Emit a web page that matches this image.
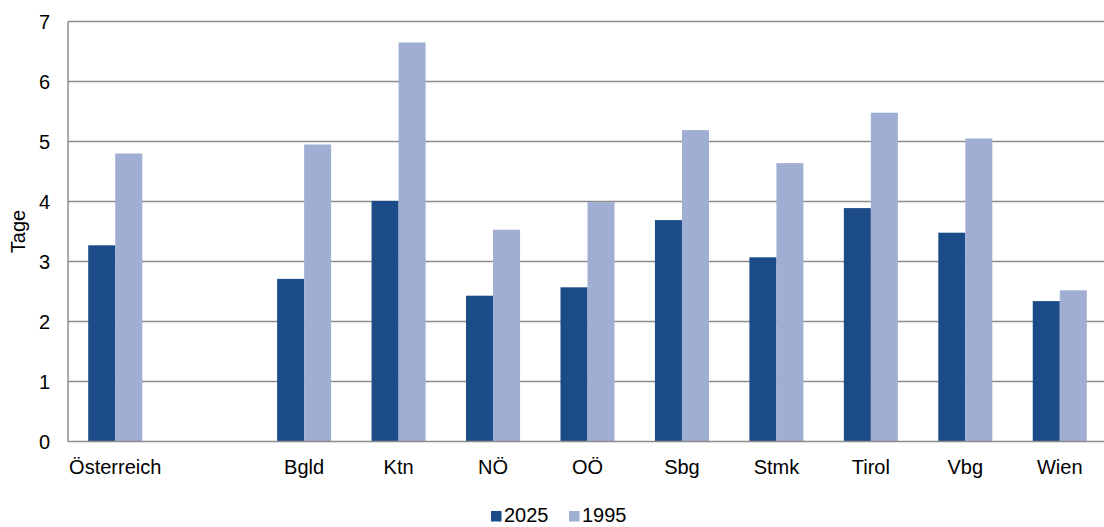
<!DOCTYPE html>
<html>
<head>
<meta charset="utf-8">
<script src="https://cdn.jsdelivr.net/npm/d3@7"></script>
<style>
  body { margin: 0; background: #fff; }
  svg { display: block; font-family: 'Liberation Sans', Arial, sans-serif; }
</style>
</head>
<body>
<div id="chart"></div>
<script>
// categories (the blank slot is the gap after Österreich)
var categories = ['Österreich', '', 'Bgld', 'Ktn', 'NÖ', 'OÖ', 'Sbg', 'Stmk', 'Tirol', 'Vbg', 'Wien']
var values2025 = [3.27, null, 2.71, 4.01, 2.43, 2.57, 3.69, 3.07, 3.89, 3.48, 2.34]
var values1995 = [4.80, null, 4.95, 6.65, 3.53, 3.99, 5.19, 4.64, 5.48, 5.05, 2.52]
var seriesNames = ['2025', '1995']
var yTicks = [0, 1, 2, 3, 4, 5, 6, 7]

var colors = { '2025': '#1b4c88', '1995': '#a0aed3' }

var width = 1104
var height = 527
var margin = { top: 21.5, left: 68, right: -3, bottom: 85.5 }
var fontSize = 20

var svg = d3
  .select('#chart')
  .append('svg')
  .attr('width', width)
  .attr('height', height)

var xScale = d3
  .scaleBand()
  .domain(d3.range(categories.length))
  .range([margin.left, width - margin.right])
  .padding(0)

var inner = xScale.bandwidth()
var pairWidth = inner * 0.572
var xSeries = d3
  .scaleBand()
  .domain(seriesNames)
  .range([(inner - pairWidth) / 2, (inner + pairWidth) / 2])
  .padding(0)

var yScale = d3
  .scaleLinear()
  .domain([0, 7])
  .range([height - margin.bottom, margin.top])

// gridlines
svg
  .selectAll('.grid')
  .data(yTicks.slice(1))
  .enter()
  .append('line')
  .attr('class', 'grid')
  .attr('x1', margin.left)
  .attr('x2', width)
  .attr('y1', d => yScale(d))
  .attr('y2', d => yScale(d))
  .attr('stroke', '#8c8c8c')
  .attr('stroke-width', 1.5)

// bars
var rows = categories.map(function(c, i) {
  return { i: i, name: c, '2025': values2025[i], '1995': values1995[i] }
})

var groups = svg
  .selectAll('.group')
  .data(rows.filter(d => d.name !== ''))
  .enter()
  .append('g')
  .attr('class', 'group')
  .attr('transform', d => 'translate(' + xScale(d.i) + ',0)')

groups
  .selectAll('rect')
  .data(d => seriesNames.map(s => ({ key: s, value: d[s] })))
  .enter()
  .append('rect')
  .attr('x', d => xSeries(d.key))
  .attr('width', xSeries.bandwidth())
  .attr('y', d => yScale(d.value))
  .attr('height', d => yScale(0) - yScale(d.value))
  .attr('fill', d => colors[d.key])

// axes lines
svg
  .append('line')
  .attr('x1', margin.left)
  .attr('x2', margin.left)
  .attr('y1', yScale(7))
  .attr('y2', yScale(0))
  .attr('stroke', '#8c8c8c')
  .attr('stroke-width', 1.5)

svg
  .append('line')
  .attr('x1', margin.left)
  .attr('x2', width)
  .attr('y1', yScale(0))
  .attr('y2', yScale(0))
  .attr('stroke', '#8c8c8c')
  .attr('stroke-width', 1.5)

// y tick labels
svg
  .selectAll('.ytick')
  .data(yTicks)
  .enter()
  .append('text')
  .attr('class', 'ytick')
  .attr('x', 50)
  .attr('y', d => yScale(d) + 7)
  .attr('text-anchor', 'end')
  .attr('font-size', fontSize)
  .attr('fill', '#000')
  .text(d => d)

// x labels
svg
  .selectAll('.xlabel')
  .data(rows.filter(d => d.name !== ''))
  .enter()
  .append('text')
  .attr('class', 'xlabel')
  .attr('x', d => xScale(d.i) + inner / 2)
  .attr('y', 474)
  .attr('text-anchor', 'middle')
  .attr('font-size', fontSize)
  .attr('fill', '#000')
  .text(d => d.name)

// y axis title
svg
  .append('text')
  .attr('transform', 'translate(25,' + (yScale(3.5)) + ') rotate(-90)')
  .attr('text-anchor', 'middle')
  .attr('font-size', fontSize)
  .attr('fill', '#000')
  .text('Tage')

// legend
var legendX = [491, 569]
var legend = svg
  .selectAll('.legend')
  .data(seriesNames)
  .enter()
  .append('g')
  .attr('class', 'legend')
  .attr('transform', (d, i) => 'translate(' + legendX[i] + ',511)')

legend
  .append('rect')
  .attr('width', 10.5)
  .attr('height', 10.5)
  .attr('fill', d => colors[d])

legend
  .append('text')
  .attr('x', 13)
  .attr('y', 10.5)
  .attr('font-size', fontSize)
  .attr('fill', '#000')
  .text(d => d)
</script>
</body>
</html>
